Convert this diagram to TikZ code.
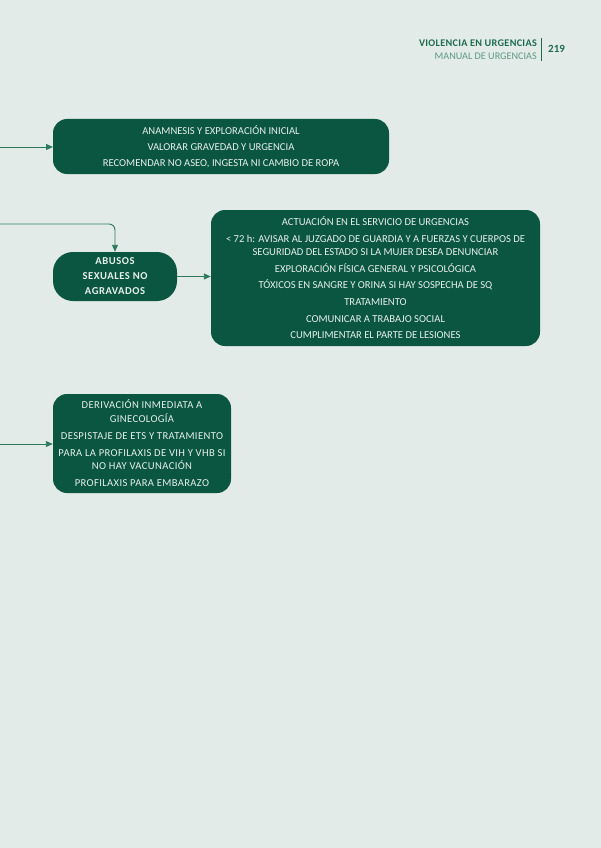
\documentclass[tikz,border=0pt]{standalone}
\usepackage{fontspec}
\setmainfont{Carlito}
\usetikzlibrary{arrows.meta}
\definecolor{bgc}{HTML}{E3EBE8}
\definecolor{boxg}{HTML}{0B5640}
\definecolor{lineg}{HTML}{2E7A5C}
\definecolor{txtw}{HTML}{E6EFEB}
\definecolor{hdark}{HTML}{1E6B4E}
\definecolor{hlight}{HTML}{5C9A80}
\tikzset{
  gbox/.style={fill=boxg, draw=none, text=txtw, align=center, inner sep=0pt},
  conn/.style={draw=lineg, line width=0.9pt, -{Triangle[length=7pt,width=6pt]}},
  txt/.style={font=\fontsize{10.6}{13}\selectfont},
}
\begin{document}
\begin{tikzpicture}[x=1pt,y=-1pt]
\fill[bgc] (0,0) rectangle (601,848);
\useasboundingbox (0,0) rectangle (601,848);
% header
\node[anchor=east, text=hdark, font=\fontsize{10.2}{11}\selectfont\bfseries\addfontfeature{LetterSpace=3}, inner sep=0pt] (h1) at (537,43) {VIOLENCIA EN URGENCIAS};
\node[anchor=east, text=hlight, font=\fontsize{10.2}{11}\selectfont, inner sep=0pt] (h2) at (537,56) {MANUAL DE URGENCIAS};
\draw[hdark, line width=0.8pt] (541,38) -- (541,61);
\node[anchor=west, text=hdark, font=\fontsize{11}{12}\selectfont\bfseries, inner sep=0pt] (pg) at (548,49) {219};

% box 1
\path[gbox, rounded corners=14pt] (53,119) rectangle (389,174);
\node[txt, text=txtw, align=center, inner sep=0pt] (b1) at (221,146.5) {ANAMNESIS Y EXPLORACIÓN INICIAL\\[3pt]VALORAR GRAVEDAD Y URGENCIA\\[3pt]RECOMENDAR NO ASEO, INGESTA NI CAMBIO DE ROPA};
\coordinate (b1w) at (53,147);
\coordinate (s1) at (0,147);
\draw[conn] (s1) -- (b1w);

% box 2
\node[gbox, rounded corners=20pt, minimum width=124pt, minimum height=49pt, font=\fontsize{10.6}{15}\selectfont\bfseries\addfontfeature{LetterSpace=5}] (b2) at (115,276.5) {ABUSOS\\SEXUALES NO\\AGRAVADOS};
\coordinate (s2) at (0,224);
\draw[conn, rounded corners=6pt] (s2) -| (b2.north);

% box 3
\node[gbox, rounded corners=14pt, minimum width=329pt, minimum height=136pt, txt] (b3) at (375.5,278) {ACTUACIÓN EN EL SERVICIO DE URGENCIAS\\[3.7pt]
< 72 h: AVISAR AL JUZGADO DE GUARDIA Y A FUERZAS Y CUERPOS DE\\SEGURIDAD DEL ESTADO SI LA MUJER DESEA DENUNCIAR\\[3.7pt]
EXPLORACIÓN FÍSICA GENERAL Y PSICOLÓGICA\\[3.7pt]
TÓXICOS EN SANGRE Y ORINA SI HAY SOSPECHA DE SQ\\[3.7pt]
TRATAMIENTO\\[3.7pt]
COMUNICAR A TRABAJO SOCIAL\\[3.7pt]
CUMPLIMENTAR EL PARTE DE LESIONES};
\draw[conn] (b2.east) -- (b3.west |- b2.east);

% box 4
\node[gbox, rounded corners=14pt, minimum width=178pt, minimum height=99pt, font=\fontsize{10.6}{13.5}\selectfont\addfontfeature{LetterSpace=3.5}] (b4) at (142,443.5) {DERIVACIÓN INMEDIATA A\\GINECOLOGÍA\\[3.5pt]
DESPISTAJE DE ETS Y TRATAMIENTO\\[3.5pt]
PARA LA PROFILAXIS DE VIH Y VHB SI\\NO HAY VACUNACIÓN\\[3.5pt]
PROFILAXIS PARA EMBARAZO};
\coordinate (s4) at (0,444);
\draw[conn] (s4) -- (b4.west |- s4);
\end{tikzpicture}
\end{document}
